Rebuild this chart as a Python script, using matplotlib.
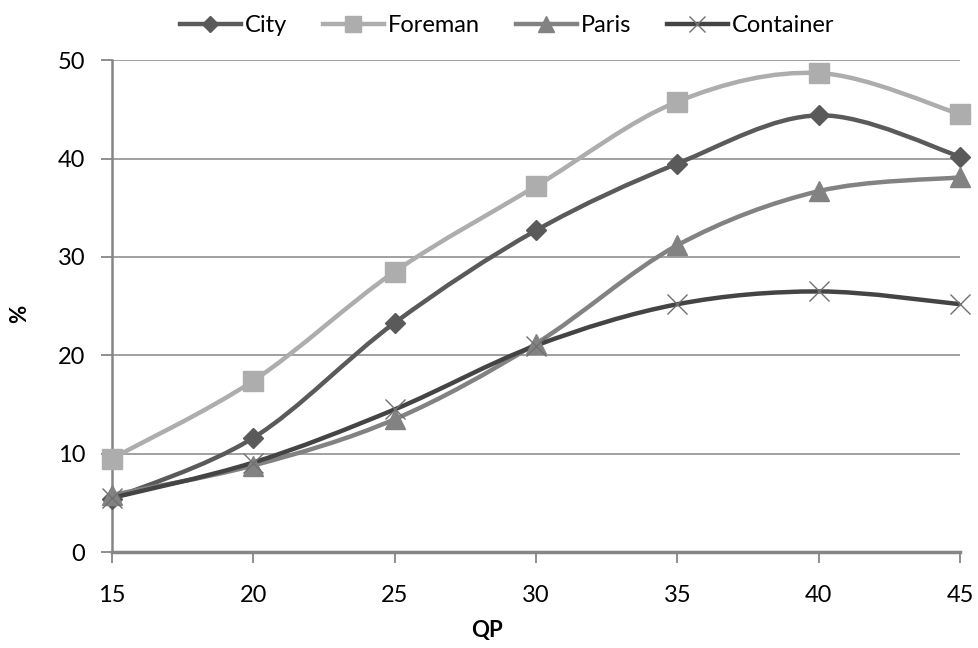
import matplotlib
matplotlib.use("Agg")
import matplotlib.pyplot as plt
from matplotlib.path import Path
from matplotlib.patches import PathPatch
import numpy as np

plt.rcParams['font.family'] = ['Lato', 'DejaVu Sans']

qp = [15, 20, 25, 30, 35, 40, 45]
city = [5.4, 11.6, 23.3, 32.7, 39.5, 44.4, 40.2]
foreman = [9.5, 17.4, 28.5, 37.2, 45.8, 48.7, 44.5]
paris = [5.8, 8.8, 13.5, 21.2, 31.2, 36.7, 38.1]
container = [5.5, 9.1, 14.5, 21.0, 25.2, 26.5, 25.2]

names = ['City', 'Foreman', 'Paris', 'Container']
colors = ['#5a5a5a', '#adadad', '#828282', '#444444']
markers = ['D', 's', '^', 'x']
msizes = [10, 14, 14, 14]


def smooth_path(xs, ys, tension=1/6):
    # cubic bezier through each point, Catmull-Rom style control points
    pts = np.column_stack([np.asarray(xs, float), np.asarray(ys, float)])
    n = len(pts)
    verts = [pts[0]]
    codes = [Path.MOVETO]
    for i in range(n - 1):
        p0 = pts[i - 1] if i > 0 else pts[i]
        p1 = pts[i]
        p2 = pts[i + 1]
        p3 = pts[i + 2] if i + 2 < n else pts[i + 1]
        c1 = p1 + (p2 - p0) * tension
        c2 = p2 - (p3 - p1) * tension
        verts += [c1, c2, p2]
        codes += [Path.CURVE4] * 3
    return Path(verts, codes)


fig = plt.figure(figsize=(9.79, 6.48), dpi=100)
ax = fig.add_axes([0.114, 0.148, 0.867, 0.759])

series = [city, foreman, paris, container]
handles = []
for ys, name, c, m, ms in zip(series, names, colors, markers, msizes):
    patch = PathPatch(smooth_path(qp, ys), facecolor='none', edgecolor=c,
                      lw=3.2, zorder=3, capstyle='round')
    ax.add_patch(patch)
    if m == 'x':
        mec, mew = '#707070', 1.0
    else:
        mec, mew = c, 1.0
    ax.plot(qp, ys, linestyle='none', marker=m, markersize=ms, color=c,
            markeredgecolor=mec, markeredgewidth=mew, zorder=4, clip_on=False)
    h, = ax.plot([], [], color=c, lw=3.2, marker=m, markersize=ms,
                 markeredgecolor=mec, markeredgewidth=mew)
    handles.append(h)

ax.set_xlim(15, 45)
ax.set_ylim(0, 50)
ax.set_xticks(qp)
ax.set_yticks(range(0, 51, 10))
ax.yaxis.grid(True, color='#868686', lw=1.1)
ax.set_axisbelow(True)
for s in ['top', 'right']:
    ax.spines[s].set_visible(False)
ax.spines['left'].set_color('#868686')
ax.spines['left'].set_linewidth(1.8)
ax.spines['bottom'].set_color('#868686')
ax.spines['bottom'].set_linewidth(2.5)
ax.tick_params(axis='both', labelsize=17, color='#868686', width=1.3,
               length=8, direction='out')
ax.tick_params(axis='x', pad=16)
ax.tick_params(axis='y', pad=11)

fig.text(487 / 979, 1 - 630 / 648, 'QP', fontsize=16, fontweight='bold',
         ha='center', va='center')
fig.text(20 / 979, 1 - 314 / 648, '%', fontsize=16, fontweight='bold',
         rotation=90, ha='center', va='center')

fig.legend(handles, names, loc='center', bbox_to_anchor=(0.518, 0.961),
           ncol=4, frameon=False, fontsize=17, handlelength=2.6,
           handletextpad=0.17, columnspacing=1.5, markerscale=0.85)

fig.savefig('out.png', dpi=100)
